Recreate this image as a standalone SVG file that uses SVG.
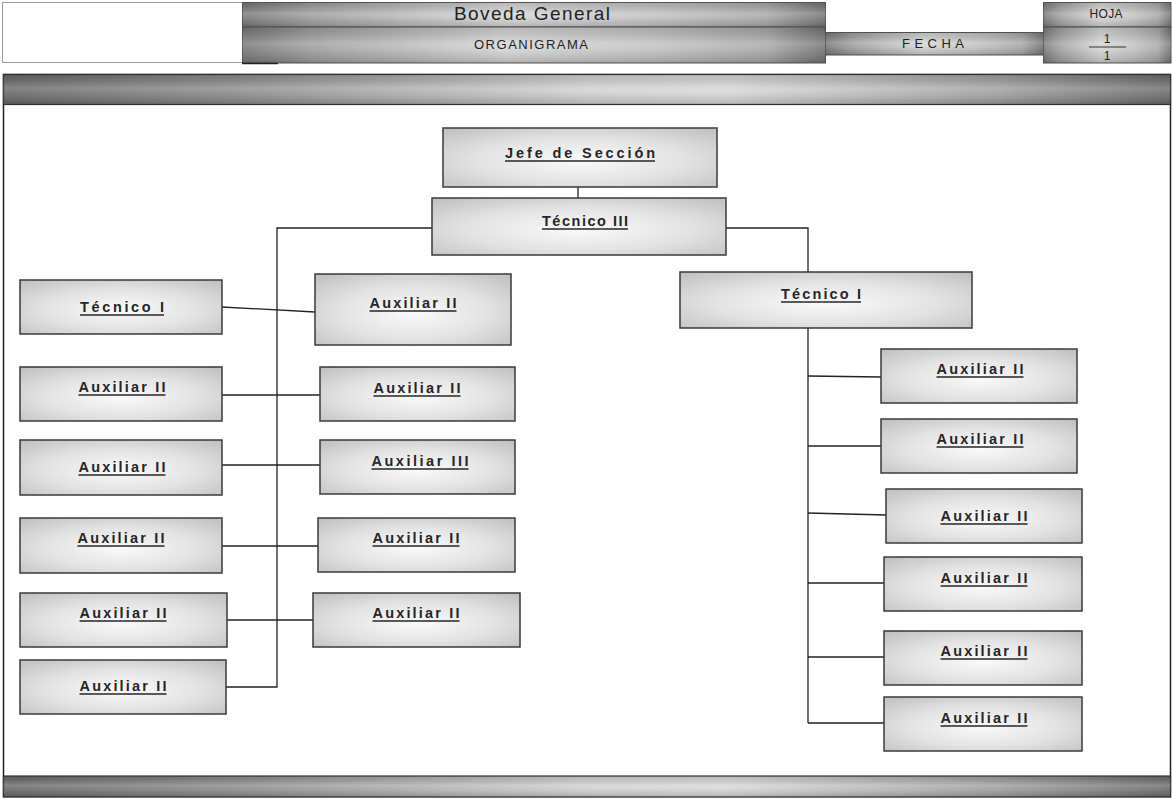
<svg xmlns="http://www.w3.org/2000/svg" width="1173" height="799" viewBox="0 0 1173 799">
  <defs>
    <!-- brushed-metal fills for the header cells and bars -->
    <linearGradient id="metalH" x1="0" y1="0" x2="1" y2="0">
      <stop offset="0" stop-color="#767676"/>
      <stop offset="0.12" stop-color="#9c9c9c"/>
      <stop offset="0.45" stop-color="#d4d4d4"/>
      <stop offset="0.7" stop-color="#c0c0c0"/>
      <stop offset="0.9" stop-color="#a6a6a6"/>
      <stop offset="1" stop-color="#727272"/>
    </linearGradient>
    <linearGradient id="barH" x1="0" y1="0" x2="1" y2="0">
      <stop offset="0" stop-color="#666"/>
      <stop offset="0.2" stop-color="#8a8a8a"/>
      <stop offset="0.5" stop-color="#cfcfcf"/>
      <stop offset="0.62" stop-color="#d6d6d6"/>
      <stop offset="0.85" stop-color="#9e9e9e"/>
      <stop offset="1" stop-color="#6a6a6a"/>
    </linearGradient>
    <linearGradient id="sheenV" x1="0" y1="0" x2="0" y2="1">
      <stop offset="0" stop-color="#000" stop-opacity="0.12"/>
      <stop offset="0.45" stop-color="#fff" stop-opacity="0.2"/>
      <stop offset="0.6" stop-color="#fff" stop-opacity="0.12"/>
      <stop offset="1" stop-color="#000" stop-opacity="0.16"/>
    </linearGradient>
    <!-- soft centre highlight for the organisation boxes -->
    <radialGradient id="boxFill" cx="0.5" cy="0.55" r="0.7">
      <stop offset="0" stop-color="#fafafa"/>
      <stop offset="0.55" stop-color="#e2e2e2"/>
      <stop offset="1" stop-color="#c2c2c2"/>
    </radialGradient>
    <style>
      .box { fill: url(#boxFill); stroke: #3a3a3a; stroke-width: 1.5; }
      .lbl { font-family: "Liberation Sans", Arial, sans-serif; font-weight: bold; font-size: 14.5px;
             fill: #262626; text-anchor: middle; }
      .ul { stroke: #262626; stroke-width: 1.3; }
      .hdr { font-family: "Liberation Sans", Arial, sans-serif; fill: #222; text-anchor: middle; }
      .cell { stroke: #555; stroke-width: 1; }
      .wire { fill: none; stroke: #222; stroke-width: 1.3; }
    </style>
  </defs>

  <rect x="0" y="0" width="1173" height="799" fill="#fff"/>

  <!-- title block -->
  <g id="header">
    <rect x="2.5" y="2.5" width="240" height="60" fill="#fff" stroke="#999" stroke-width="1"/>
    <rect class="cell" x="242.5" y="2.5" width="583" height="24.5" fill="url(#metalH)"/>
    <rect x="242.5" y="2.5" width="583" height="24.5" fill="url(#sheenV)"/>
    <rect class="cell" x="242.5" y="27" width="583" height="36" fill="url(#metalH)"/>
    <rect x="242.5" y="27" width="583" height="36" fill="url(#sheenV)"/>
    <line x1="242" y1="63.5" x2="278" y2="63.5" stroke="#222" stroke-width="1.5"/>
    <rect class="cell" x="825.5" y="32.5" width="218" height="22.5" fill="url(#metalH)"/>
    <rect x="825.5" y="32.5" width="218" height="22.5" fill="url(#sheenV)"/>
    <rect class="cell" x="1043.5" y="2.5" width="127.5" height="24.5" fill="url(#metalH)"/>
    <rect x="1043.5" y="2.5" width="127.5" height="24.5" fill="url(#sheenV)"/>
    <rect class="cell" x="1043.5" y="27" width="127.5" height="36" fill="url(#metalH)"/>
    <rect x="1043.5" y="27" width="127.5" height="36" fill="url(#sheenV)"/>
    <text class="hdr" x="532" y="20" font-size="19" textLength="156" lengthAdjust="spacing">Boveda General</text>
    <text class="hdr" x="531" y="48.5" font-size="13" textLength="114" lengthAdjust="spacing">ORGANIGRAMA</text>
    <text class="hdr" x="933" y="47.5" font-size="13" textLength="62" lengthAdjust="spacing">FECHA</text>
    <text class="hdr" x="1106" y="18" font-size="12" textLength="33" lengthAdjust="spacing">HOJA</text>
    <text class="hdr" x="1107" y="43" font-size="12">1</text>
    <line x1="1089" y1="47" x2="1126" y2="47" stroke="#333" stroke-width="1"/>
    <text class="hdr" x="1107" y="60" font-size="12">1</text>
  </g>

  <!-- page frame with top and bottom bars -->
  <g id="frame">
    <rect x="3.5" y="74.5" width="1167" height="722" fill="none" stroke="#222" stroke-width="1.5"/>
    <rect x="3.5" y="74.5" width="1167" height="30" fill="url(#barH)" stroke="#333" stroke-width="1.2"/>
    <rect x="3.5" y="74.5" width="1167" height="30" fill="url(#sheenV)"/>
    <rect x="3.5" y="776" width="1167" height="21" fill="url(#barH)" stroke="#333" stroke-width="1.2"/>
    <rect x="3.5" y="776" width="1167" height="21" fill="url(#sheenV)"/>
  </g>

  <!-- connectors -->
  <g id="connectors">
    <line class="wire" x1="578" y1="187" x2="578" y2="198"/>
    <polyline class="wire" points="432,228 277,228 277,687 226,687"/>
    <polyline class="wire" points="726,228 808,228 808,272"/>
    <line class="wire" x1="808" y1="328" x2="808" y2="723"/>
    <line class="wire" x1="222" y1="307" x2="315" y2="312"/>
    <line class="wire" x1="222" y1="395" x2="320" y2="395"/>
    <line class="wire" x1="222" y1="465" x2="320" y2="465"/>
    <line class="wire" x1="222" y1="546" x2="318" y2="546"/>
    <line class="wire" x1="227" y1="620" x2="313" y2="620"/>
    <line class="wire" x1="808" y1="376" x2="881" y2="377"/>
    <line class="wire" x1="808" y1="446" x2="881" y2="446"/>
    <line class="wire" x1="808" y1="513" x2="886" y2="515"/>
    <line class="wire" x1="808" y1="583" x2="884" y2="583"/>
    <line class="wire" x1="808" y1="657" x2="884" y2="657"/>
    <line class="wire" x1="808" y1="723" x2="884" y2="723"/>
  </g>

  <!-- top of the hierarchy -->
  <g id="jefe"><rect class="box" x="443" y="128" width="274" height="59"/><text class="lbl" x="580" y="158" textLength="150" lengthAdjust="spacing">Jefe de Sección</text><line class="ul" x1="505" y1="161" x2="655" y2="161"/></g>
  <g id="tecnico3"><rect class="box" x="432" y="198" width="294" height="57"/><text class="lbl" x="585" y="226" textLength="86" lengthAdjust="spacing">Técnico III</text><line class="ul" x1="542" y1="229" x2="628" y2="229"/></g>

  <!-- left branch, outer column -->
  <g id="l1"><rect class="box" x="20" y="280" width="202" height="54"/><text class="lbl" x="122" y="312" textLength="84" lengthAdjust="spacing">Técnico I</text><line class="ul" x1="80" y1="315" x2="164" y2="315"/></g>
  <g id="l2"><rect class="box" x="20" y="367" width="202" height="54"/><text class="lbl" x="122" y="392" textLength="87" lengthAdjust="spacing">Auxiliar II</text><line class="ul" x1="78.5" y1="395" x2="165.5" y2="395"/></g>
  <g id="l3"><rect class="box" x="20" y="440" width="202" height="55"/><text class="lbl" x="122" y="472" textLength="87" lengthAdjust="spacing">Auxiliar II</text><line class="ul" x1="78.5" y1="475" x2="165.5" y2="475"/></g>
  <g id="l4"><rect class="box" x="20" y="518" width="202" height="55"/><text class="lbl" x="121" y="543" textLength="87" lengthAdjust="spacing">Auxiliar II</text><line class="ul" x1="77.5" y1="546" x2="164.5" y2="546"/></g>
  <g id="l5"><rect class="box" x="20" y="593" width="207" height="54"/><text class="lbl" x="123" y="618" textLength="87" lengthAdjust="spacing">Auxiliar II</text><line class="ul" x1="79.5" y1="621" x2="166.5" y2="621"/></g>
  <g id="l6"><rect class="box" x="20" y="660" width="206" height="54"/><text class="lbl" x="123" y="691" textLength="87" lengthAdjust="spacing">Auxiliar II</text><line class="ul" x1="79.5" y1="694" x2="166.5" y2="694"/></g>

  <!-- left branch, inner column -->
  <g id="m1"><rect class="box" x="315" y="274" width="196" height="71"/><text class="lbl" x="413" y="308" textLength="87" lengthAdjust="spacing">Auxiliar II</text><line class="ul" x1="369.5" y1="311" x2="456.5" y2="311"/></g>
  <g id="m2"><rect class="box" x="320" y="367" width="195" height="54"/><text class="lbl" x="417" y="393" textLength="87" lengthAdjust="spacing">Auxiliar II</text><line class="ul" x1="373.5" y1="396" x2="460.5" y2="396"/></g>
  <g id="m3"><rect class="box" x="320" y="440" width="195" height="54"/><text class="lbl" x="420" y="466" textLength="97" lengthAdjust="spacing">Auxiliar III</text><line class="ul" x1="371.5" y1="469" x2="468.5" y2="469"/></g>
  <g id="m4"><rect class="box" x="318" y="518" width="197" height="54"/><text class="lbl" x="416" y="543" textLength="87" lengthAdjust="spacing">Auxiliar II</text><line class="ul" x1="372.5" y1="546" x2="459.5" y2="546"/></g>
  <g id="m5"><rect class="box" x="313" y="593" width="207" height="54"/><text class="lbl" x="416" y="618" textLength="87" lengthAdjust="spacing">Auxiliar II</text><line class="ul" x1="372.5" y1="621" x2="459.5" y2="621"/></g>

  <!-- right branch -->
  <g id="tecnico1r"><rect class="box" x="680" y="272" width="292" height="56"/><text class="lbl" x="821" y="299" textLength="80" lengthAdjust="spacing">Técnico I</text><line class="ul" x1="781" y1="302" x2="861" y2="302"/></g>
  <g id="r1"><rect class="box" x="881" y="349" width="196" height="54"/><text class="lbl" x="980" y="374" textLength="87" lengthAdjust="spacing">Auxiliar II</text><line class="ul" x1="936.5" y1="377" x2="1023.5" y2="377"/></g>
  <g id="r2"><rect class="box" x="881" y="419" width="196" height="54"/><text class="lbl" x="980" y="444" textLength="87" lengthAdjust="spacing">Auxiliar II</text><line class="ul" x1="936.5" y1="447" x2="1023.5" y2="447"/></g>
  <g id="r3"><rect class="box" x="886" y="489" width="196" height="54"/><text class="lbl" x="984" y="521" textLength="87" lengthAdjust="spacing">Auxiliar II</text><line class="ul" x1="940.5" y1="524" x2="1027.5" y2="524"/></g>
  <g id="r4"><rect class="box" x="884" y="557" width="198" height="54"/><text class="lbl" x="984" y="583" textLength="87" lengthAdjust="spacing">Auxiliar II</text><line class="ul" x1="940.5" y1="586" x2="1027.5" y2="586"/></g>
  <g id="r5"><rect class="box" x="884" y="631" width="198" height="54"/><text class="lbl" x="984" y="656" textLength="87" lengthAdjust="spacing">Auxiliar II</text><line class="ul" x1="940.5" y1="659" x2="1027.5" y2="659"/></g>
  <g id="r6"><rect class="box" x="884" y="697" width="198" height="54"/><text class="lbl" x="984" y="723" textLength="87" lengthAdjust="spacing">Auxiliar II</text><line class="ul" x1="940.5" y1="726" x2="1027.5" y2="726"/></g>
</svg>
